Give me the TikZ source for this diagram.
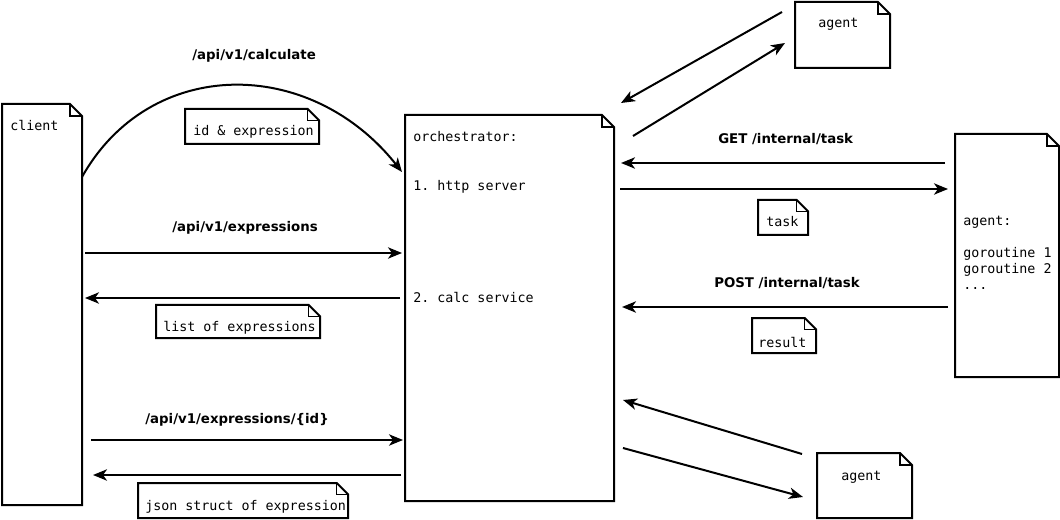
\documentclass[tikz,border=0pt]{standalone}
\usepackage{fontspec}
\setmonofont{DejaVu Sans Mono}
\setsansfont{DejaVu Sans}
\usetikzlibrary{arrows.meta,calc,fit}

% outline of a dog-eared document drawn around a fitted node
\newcommand\docoutline[2]{%
  \draw[boxline] ([xshift=-#2]#1.north east) -- (#1.north west) -- (#1.south west)
    -- (#1.south east) -- ([yshift=-#2]#1.north east) -- cycle;
  \draw[foldline] ([xshift=-#2]#1.north east) |- ([yshift=-#2]#1.north east);
}

\begin{document}
\begin{tikzpicture}[
  x=0.75pt, y=-0.75pt,
  box/.style={inner sep=0pt, outer sep=0pt},
  boxline/.style={line width=1.5pt, line join=miter},
  foldline/.style={line width=0.8pt},
  mono/.style={inner sep=0pt, anchor=base west, font=\ttfamily\fontsize{10pt}{12pt}\selectfont},
  lbl/.style={inner sep=0pt, anchor=base west, font=\sffamily\bfseries\fontsize{10pt}{12pt}\selectfont},
  arr/.style={line width=1.5pt, -{Stealth[length=10.5pt,width=8.5pt,inset=3pt]}},
]
\useasboundingbox (0,0) rectangle (1060,520);

% main components
\node[box, fit={(2,104) (82,505)}] (client) {};
\node[box, fit={(405,115) (614,501)}] (orch) {};
\node[box, fit={(795,2) (890,68)}] (agentT) {};
\node[box, fit={(955,134) (1059,377)}] (agentR) {};
\node[box, fit={(817,453) (912,518)}] (agentB) {};

% payload notes
\node[box, fit={(185,109) (319,144)}] (nId) {};
\node[box, fit={(758,200) (808,235)}] (nTask) {};
\node[box, fit={(156,305) (320,338)}] (nList) {};
\node[box, fit={(752,318) (816,353)}] (nResult) {};
\node[box, fit={(138,483) (348,518)}] (nJson) {};

\foreach \n in {client,orch,agentT,agentR,agentB} {\docoutline{\n}{9pt}}
\foreach \n in {nId,nTask,nList,nResult,nJson} {\docoutline{\n}{8.5pt}}

% texts inside the documents
\node[mono] (tClient) at (10,131) {client};
\node[mono] (tOrch1) at (413,142) {orchestrator:};
\node[mono] (tOrch2) at (413,191) {1. http server};
\node[mono] (tOrch3) at (413,303) {2. calc service};
\node[mono] (tAgentT) at (818,28) {agent};
\node[mono] (tAgentB) at (841,480) {agent};
\node[mono] (tAR1) at (963,226) {agent:};
\node[mono] (tAR2) at (963,258) {goroutine 1};
\node[mono] (tAR3) at (963,274) {goroutine 2};
\node[mono] (tAR4) at (963,290) {...};
\node[mono] (tId) at (193,136) {id \& expression};
\node[mono] (tTask) at (766,227) {task};
\node[mono] (tList) at (163,331) {list of expressions};
\node[mono] (tResult) at (758,347) {result};
\node[mono] (tJson) at (145,510) {json struct of expression};

% route labels
\node[lbl] (lCalc) at (192,60) {/api/v1/calculate};
\node[lbl] (lExprs) at (172,232) {/api/v1/expressions};
\node[lbl] (lExpr) at (145,423) {/api/v1/expressions/\{id\}};
\node[lbl] (lGet) at (718,144) {GET /internal/task};
\node[lbl] (lPost) at (714,287) {POST /internal/task};

% client <-> orchestrator
\draw[arr] ($(client.north east)+(0,73)$) .. controls (150,56) and (310,56) .. ($(orch.north west)+(-3,57)$);
\draw[arr] ($(client.east |- 0,253)+(3,0)$) -- ($(orch.west |- 0,253)+(-3,0)$);
\draw[arr] ($(orch.west |- 0,298)+(-5,0)$) -- ($(client.east |- 0,298)+(3,0)$);
\draw[arr] ($(client.east |- 0,440)+(9,0)$) -- ($(orch.west |- 0,440)+(-2,0)$);
\draw[arr] ($(orch.west |- 0,475)+(-4,0)$) -- ($(client.east |- 0,475)+(11,0)$);

% orchestrator <-> agents
\draw[arr] ($(agentT.north west)+(-13,10)$) -- ($(orch.north east)+(7,-12)$);
\draw[arr] ($(orch.north east)+(19,21)$) -- ($(agentT.north west)+(-10,41)$);
\draw[arr] ($(agentR.west |- 0,163)+(-10,0)$) -- ($(orch.east |- 0,163)+(7,0)$);
\draw[arr] ($(orch.east |- 0,189)+(6,0)$) -- ($(agentR.west |- 0,189)+(-7,0)$);
\draw[arr] ($(agentR.west |- 0,307)+(-7,0)$) -- ($(orch.east |- 0,307)+(8,0)$);
\draw[arr] ($(agentB.north west)+(-15,1)$) -- ($(orch.east |- 0,400)+(9,0)$);
\draw[arr] ($(orch.east |- 0,448)+(9,0)$) -- ($(agentB.north west)+(-14,44)$);
\end{tikzpicture}
\end{document}
